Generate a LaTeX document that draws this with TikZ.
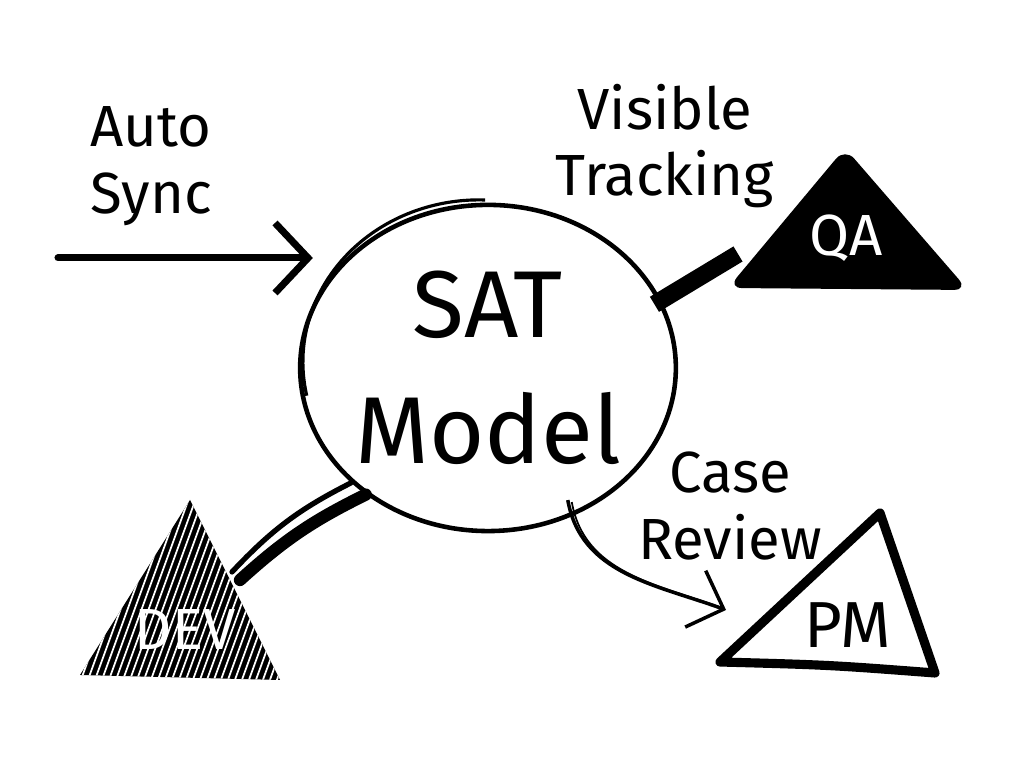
\documentclass[tikz,border=0pt]{standalone}
\usepackage{fontspec}
\setmainfont{Fira Sans}
\usetikzlibrary{shapes.geometric, arrows.meta, positioning}
\tikzstyle{hub} = [ellipse, 
			draw, 
			line width = 1.3pt, 
			minimum width = 3.56cm, 
			minimum height = 3.26cm, 
			inner sep = 0pt, 
			align = center, 
			font = \fontsize{27}{36}\selectfont]
\tikzstyle{note} = [align = center, 
			font = \fontsize{16.5}{19}\selectfont]
\tikzstyle{tag} = [inner sep = 0pt, 
			font = \fontsize{16.5}{19}\selectfont]
\tikzstyle{link} = [draw, line width = 2pt, line cap = round, -{Straight Barb[length=0.33cm, width=0.7cm]}]
\tikzstyle{thin link} = [draw, line width = 1pt, -{Straight Barb[length=0.3cm, width=0.6cm]}]
\tikzstyle{brush} = [draw, line width = 4pt, line cap = round]

\begin{document}
\begin{tikzpicture}[x=0.01cm, y=0.01cm]
	\useasboundingbox (0,0) rectangle (1024,768);
	\node [hub] (sat) at (488,400) {SAT\\Model};
	\draw [line width = 0.9pt] (sat.center) ++(-9,6) ++(192:1.76cm and 1.62cm) arc [start angle=192, end angle=88, x radius=1.76cm, y radius=1.62cm];
	% left: sync arrow
	\coordinate (syncsrc) at (58,510);
	\node [note, align = left, above right=0.2cm and 0.2cm of syncsrc] (synclbl) {Auto\\Sync};
	\path [link, shorten > = -0.15cm] (syncsrc) -- (sat.west |- syncsrc);
	% QA
	\fill [rounded corners = 4] (845,620) -- (968,478) -- (728,480) -- cycle;
	\node [tag, white] (qa) at (846,530) {QA};
	\coordinate (qaport) at (738,514);
	\path [brush, line width = 5pt, line cap = butt] ([shift={(-6,-6)}]sat.22) -- (qaport);
	\node [note] (tracklbl) at (665,622) {Visible\\Tracking};
	% DEV
	\begin{scope}
		\clip (190,268) -- (280,88) -- (80,93) -- cycle;
		\fill (0,0) rectangle (400,400);
		\foreach \k in {0,...,45}
			\draw [white, line width = 0.5pt] (-20+\k*7,80) -- ++(80,220);
	\end{scope}
	\node [tag, white] (dev) at (185,138) {DEV};
	\coordinate (devport) at (240,188);
	\path [brush, line width = 3.5pt] (sat.226) to [bend right=8] (devport);
	\path [brush, line width = 1.5pt] (sat.220) to [bend right=10] ([shift={(-8,8)}]devport);
	% PM
	\draw [line width = 2.6pt, line join = round] (720,106) -- (880,255) -- (935,95) .. controls (830,103) .. (720,106) -- cycle;
	\node [tag, font = \fontsize{18.5}{20}\selectfont] (pm) at (848,143) {PM};
	\coordinate (pmport) at (726,158);
	\path [thin link] ([shift={(0,18)}]sat.-62) to [out=-80, in=160] (pmport);
	\draw [line width = 0.5pt] ([shift={(4,16)}]sat.-62) to [out=-80, in=160] ([shift={(-4,2)}]pmport);
	\node [note] (reviewlbl) at (730,262) {Case\\Review};
\end{tikzpicture}
\end{document}
